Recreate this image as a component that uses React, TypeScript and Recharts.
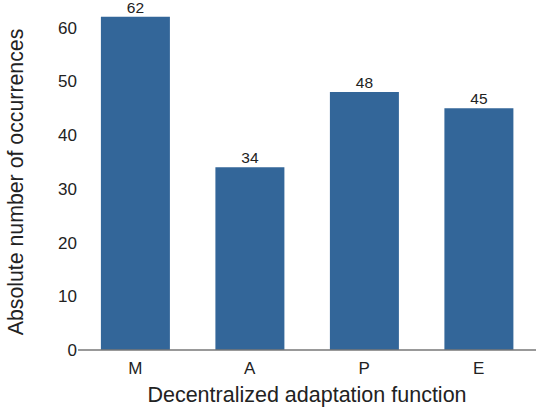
import { BarChart, Bar, XAxis, YAxis, LabelList } from "recharts";

// Occurrences per decentralized adaptation function
const CATEGORIES = ["M", "A", "P", "E"];
const COUNTS = [62, 34, 48, 45];
const Y_TICKS = [0, 10, 20, 30, 40, 50, 60];

const data = CATEGORIES.map((name, i) => ({ name, count: COUNTS[i] }));

const FONT = '"Liberation Sans", Arial, sans-serif';

export default function App() {
  return (
    <div style={{ position: "absolute", left: 0, top: 0, width: 540, height: 410, background: "#fff", fontFamily: FONT }}>
      <BarChart
        width={540}
        height={410}
        data={data}
        margin={{ top: 6, right: 4, left: 0, bottom: 0 }}
        barCategoryGap="20%"
      >
        <XAxis
          dataKey="name"
          height={60}
          tickLine={false}
          tickSize={0}
          tickMargin={12}
          axisLine={{ stroke: "#777", strokeWidth: 1.5 }}
          tick={{ fontSize: 17, fill: "#222", fontFamily: FONT }}
          label={{
            value: "Decentralized adaptation function",
            position: "insideBottom",
            offset: 8,
            style: { fontSize: 21.5, fill: "#222", fontFamily: FONT },
          }}
        />
        <YAxis
          width={78}
          domain={[0, 64]}
          ticks={Y_TICKS}
          axisLine={false}
          tickLine={false}
          tickSize={0}
          tickMargin={1}
          tick={{ fontSize: 17, fill: "#222", fontFamily: FONT }}
          label={{
            value: "Absolute number of occurrences",
            angle: -90,
            position: "center",
            dx: -24,
            dy: 4,
            style: { fontSize: 21.3, fill: "#222", fontFamily: FONT, textAnchor: "middle" },
          }}
        />
        <Bar dataKey="count" fill="#336699" isAnimationActive={false}>
          <LabelList
            dataKey="count"
            position="top"
            offset={4}
            style={{ fontSize: 15.5, fill: "#222", fontFamily: FONT }}
          />
        </Bar>
      </BarChart>
    </div>
  );
}
